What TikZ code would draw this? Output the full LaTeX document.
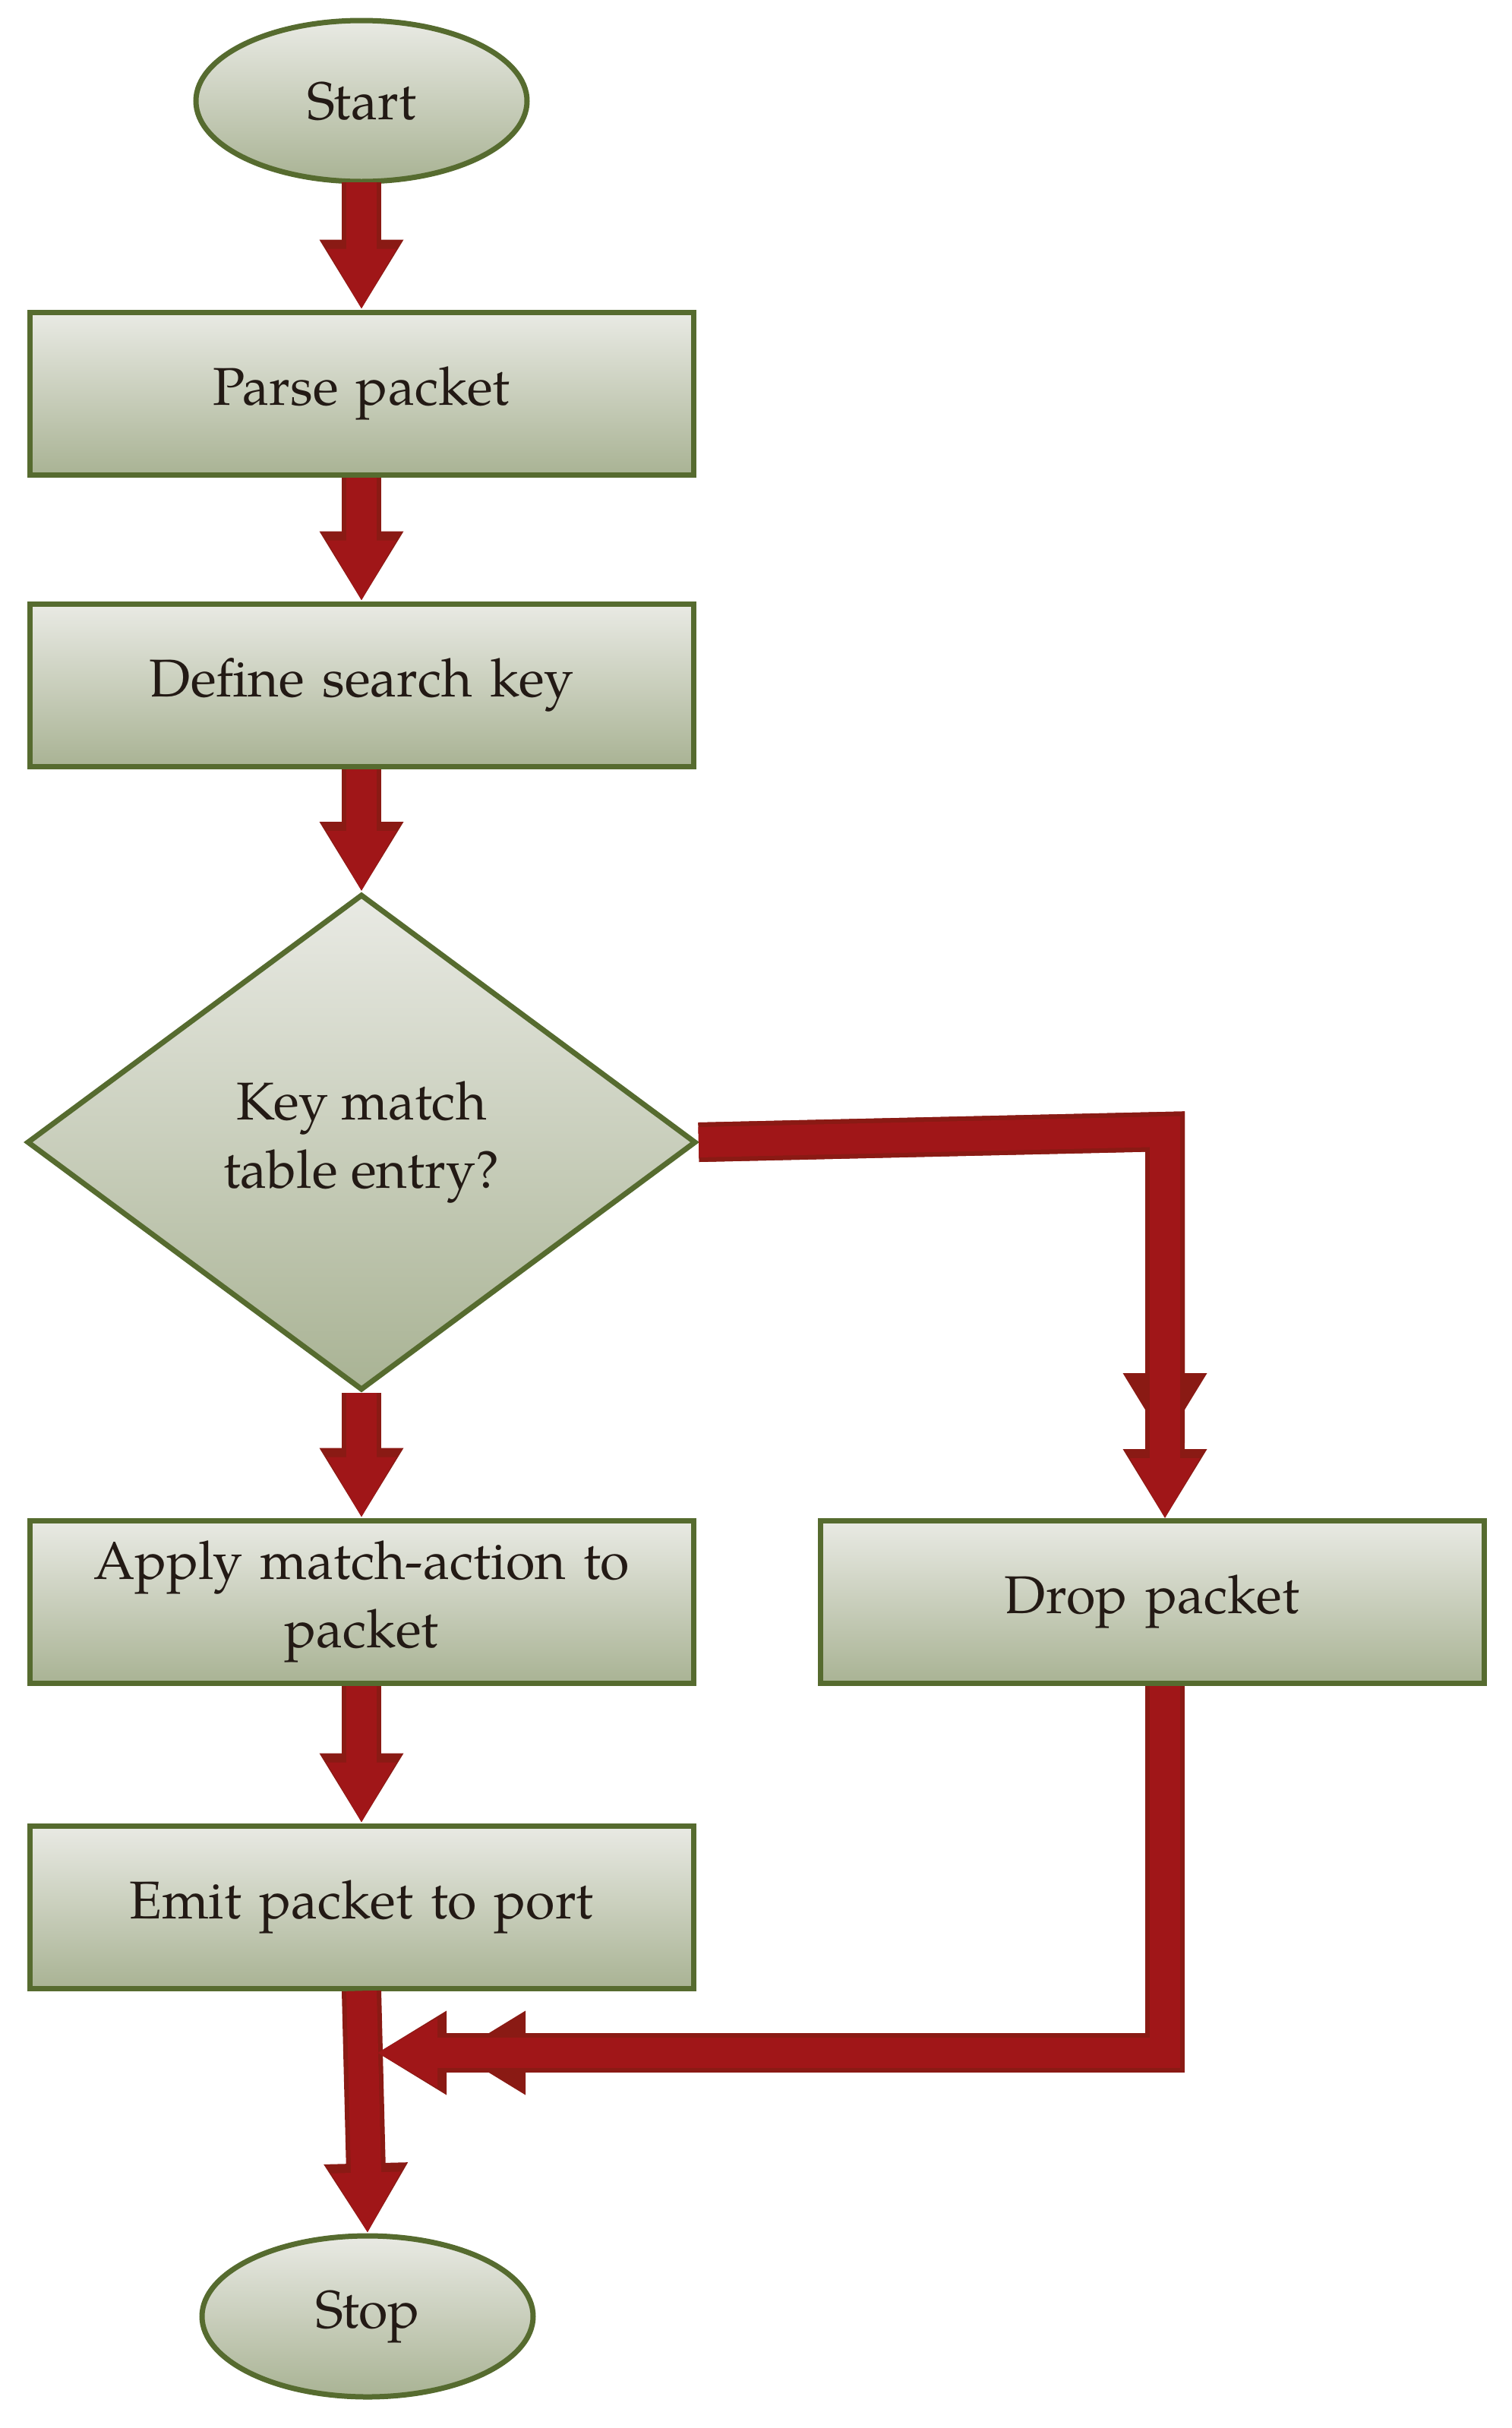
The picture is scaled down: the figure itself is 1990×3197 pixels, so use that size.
\documentclass[tikz,border=0pt]{standalone}
\usepackage{fontspec}
\setmainfont{TeX Gyre Pagella}[]
\usetikzlibrary{shapes.geometric,arrows.meta}
\begin{document}
\begin{tikzpicture}[x=1pt,y=-1pt,
  box/.style={draw=boxline,line width=7pt,top color=topc,bottom color=botc,font=\fontsize{70}{90}\selectfont,text=txt,align=center,inner sep=0pt},
  rect/.style={box,rectangle,minimum width=874pt,minimum height=214pt,text width=860pt},
  oval/.style={box,ellipse,minimum width=436pt,minimum height=212pt},
  conn/.style={line width=40pt,draw=arr,-{Triangle[length=80pt,width=86pt]},
     preaction={draw=arrd,line width=52pt,-{Triangle[length=92pt,width=104pt]}}}]
\definecolor{boxline}{HTML}{566B2F}
\definecolor{topc}{HTML}{E9EAE4}
\definecolor{botc}{HTML}{A9B394}
\definecolor{txt}{HTML}{231A15}
\definecolor{arr}{HTML}{A01618}
\definecolor{arrd}{HTML}{8A1A14}
\useasboundingbox (0,0) rectangle (1990,3197);
\node[oval] (start) at (476,133) {Start};
\node[rect] (parse) at (476,518) {Parse packet};
\node[rect] (def) at (476,902) {Define search key};
\node[box,diamond,aspect=1.35,minimum width=881pt,minimum height=653pt] (dec) at (476,1504) {Key match\\table entry?};
\node[rect] (apply) at (476,2109) {Apply match-action to\\packet};
\node[rect] (drop) at (1517,2109) {Drop packet};
\node[rect] (emit) at (476,2511) {Emit packet to port};
\node[oval] (stop) at (484,3050) {Stop};
\coordinate (c1) at (1534,1490);
\coordinate (c2) at (1534,2703);
\coordinate (c3) at (496,2703);
\draw[conn,shorten <=-3pt] (start.south) -- (parse.north);
\draw[conn] (parse.south) -- (def.north);
\draw[conn] (def.south) -- (dec.north);
\draw[conn] (dec.south) -- (apply.north);
\draw[conn] (apply.south) -- (emit.north);
\draw[conn] (emit.south) -- (stop.north);
\draw[conn,-,preaction={draw=arrd,line width=52pt,-}] (dec.east) -- (c1) -- (1534,1900);
\draw[conn] (1534,1800) -- (1534,2000);
\draw[conn,-,preaction={draw=arrd,line width=52pt,-}] (1534,2220) -- (c2) -- (600,2703);
\draw[conn] (700,2703) -- (c3);
\end{tikzpicture}
\end{document}
